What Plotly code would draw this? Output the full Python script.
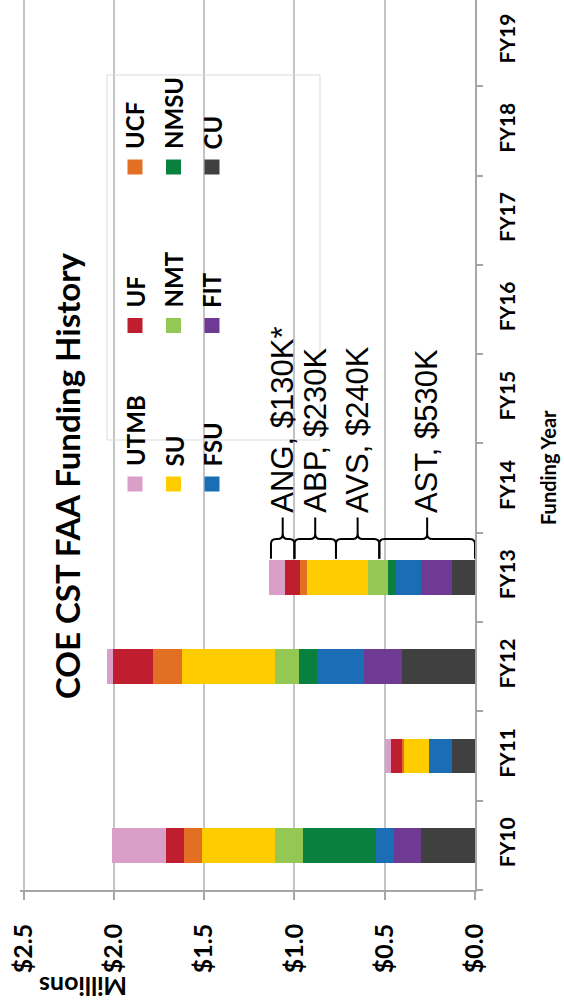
import plotly.graph_objects as go

# ---------------- data ----------------
years = ["FY10", "FY11", "FY12", "FY13", "FY14", "FY15", "FY16", "FY17", "FY18", "FY19"]

# stacking order from $0 outward
schools = ["CU", "FIT", "FSU", "NMSU", "NMT", "SU", "UCF", "UF", "UTMB"]
cu   = [0.30, 0.13, 0.405, 0.13, None, None, None, None, None, None]
fit  = [0.15, 0.00, 0.21, 0.17, None, None, None, None, None, None]
fsu  = [0.10, 0.125, 0.26, 0.14, None, None, None, None, None, None]
nmsu = [0.40, 0.00, 0.10, 0.04, None, None, None, None, None, None]
nmt  = [0.16, 0.00, 0.13, 0.11, None, None, None, None, None, None]
su   = [0.40, 0.14, 0.52, 0.34, None, None, None, None, None, None]
ucf  = [0.10, 0.01, 0.16, 0.04, None, None, None, None, None, None]
uf   = [0.10, 0.06, 0.22, 0.08, None, None, None, None, None, None]
utmb = [0.30, 0.035, 0.035, 0.09, None, None, None, None, None, None]
values = [cu, fit, fsu, nmsu, nmt, su, ucf, uf, utmb]

colors = ["#404040", "#6F3A93", "#1B6EB6", "#0A803F", "#92C853",
          "#FFCC00", "#E36F24", "#BE1E2D", "#DA9FC8"]

# legend arrangement (Excel order)
legend_order = ["UTMB", "UF", "UCF", "SU", "NMT", "NMSU", "FSU", "FIT", "CU"]

# FY13 program split (braces)
program_year = "FY13"
programs = ["AST", "AVS", "ABP", "ANG"]
program_amounts = [0.53, 0.24, 0.23, 0.13]
program_labels = ["AST, $530K", "AVS, $240K", "ABP, $230K", "ANG, $130K*"]

x_tickvals = [0.0, 0.5, 1.0, 1.5, 2.0, 2.5]
x_ticktext = ["$0.0", "$0.5", "$1.0", "$1.5", "$2.0", "$2.5"]

title_text = "COE CST FAA Funding History"
x_title = "Millions"
y_title = "Funding Year"

# ---------------- layout geometry ----------------
W, H = 564, 1006
ML, MR, MT, MB = 20, 89, 0, 116
PW, PH = W - ML - MR, H - MT - MB
X_RANGE = [2.52, 0.0]
Y_RANGE = [-0.5, 9.466]

def paper(px, py):
    return (px - ML) / PW, (MT + PH - py) / PH

BOLD = dict(family="Lato, 'Open Sans', sans-serif", color="black", weight="bold")
GRID = "#c4c4c4"
AXIS = "#a6a6a6"

ypos = list(range(len(years)))

fig = go.Figure()
for name, vals, col in zip(schools, values, colors):
    fig.add_trace(go.Bar(
        y=ypos, x=vals, name=name, orientation="h",
        marker=dict(color=col, line=dict(width=0)),
        width=0.39, showlegend=False,
    ))

shapes = []
annotations = []

# ---- braces over FY13 ----
yi = years.index(program_year)
yb, ym, yt = yi + 0.21, yi + 0.43, yi + 0.67
rx, ry = 0.028, 0.056
start = 0.0
for lab, amt in zip(program_labels, program_amounts):
    x0, x1 = start, start + amt
    xm = (x0 + x1) / 2
    path = (f"M {x0},{yb} L {x0},{ym - ry} Q {x0},{ym} {x0 + rx},{ym} "
            f"L {xm - rx},{ym} Q {xm},{ym} {xm},{ym + ry} L {xm},{yt} "
            f"M {xm},{ym + ry} Q {xm},{ym} {xm + rx},{ym} "
            f"L {x1 - rx},{ym} Q {x1},{ym} {x1},{ym - ry} L {x1},{yb}")
    shapes.append(dict(type="path", xref="x", yref="y", path=path,
                       line=dict(color="black", width=2)))
    annotations.append(dict(
        x=xm, y=yi + 0.70, xref="x", yref="y", text=lab, showarrow=False,
        textangle=-90, xanchor="center", yanchor="bottom",
        font=dict(family="'Liberation Sans', Arial, sans-serif", size=31, color="black"),
    ))
    start = x1

# ---- manual legend (rotated) ----
bx0, by0 = paper(107, 440)
bx1, by1 = paper(320, 75)
shapes.append(dict(type="rect", xref="paper", yref="paper", x0=bx0, y0=by0, x1=bx1, y1=by1,
                   line=dict(color="#d9d9d9", width=1), fillcolor="rgba(0,0,0,0)", layer="above"))
col_of = dict(zip(schools, colors))
for i, name in enumerate(legend_order):
    c, r = i // 3, i % 3
    cx = 135 + c * 38.5
    cy = 484 - r * 158.5
    sx0, sy0 = paper(cx - 7.5, cy + 7.5)
    sx1, sy1 = paper(cx + 7.5, cy - 7.5)
    shapes.append(dict(type="rect", xref="paper", yref="paper", x0=sx0, y0=sy0, x1=sx1, y1=sy1,
                       line=dict(width=0), fillcolor=col_of[name], layer="above"))
    tx, ty = paper(cx, cy - 7.5 - 8)
    annotations.append(dict(x=tx, y=ty, xref="paper", yref="paper", text=name,
                            showarrow=False, textangle=-90, xanchor="center", yanchor="bottom",
                            font=dict(BOLD, size=24)))

# ---- titles ----
tx, ty = paper(67, 476)
annotations.append(dict(x=tx, y=ty, xref="paper", yref="paper", text=title_text, showarrow=False,
                        textangle=-90, xanchor="center", yanchor="middle", font=dict(BOLD, size=33)))
tx, ty = paper(83, 1004)
annotations.append(dict(x=tx, y=ty, xref="paper", yref="paper", text=x_title, showarrow=False,
                        textangle=180, xanchor="center", yanchor="bottom", font=dict(BOLD, size=25)))
tx, ty = paper(548, 468)
annotations.append(dict(x=tx, y=ty, xref="paper", yref="paper", text=y_title, showarrow=False,
                        textangle=-90, xanchor="center", yanchor="middle", font=dict(BOLD, size=20)))

fig.update_layout(
    width=W, height=H, autosize=False,
    margin=dict(l=ML, r=MR, t=MT, b=MB, pad=0),
    barmode="stack",
    paper_bgcolor="white", plot_bgcolor="white",
    showlegend=False,
    shapes=shapes, annotations=annotations,
    xaxis=dict(
        range=X_RANGE, tickmode="array", tickvals=x_tickvals, ticktext=x_ticktext,
        tickangle=-90, tickfont=dict(BOLD, size=25),
        showgrid=True, gridcolor=GRID, gridwidth=2, zeroline=False,
        showline=True, linecolor=AXIS, linewidth=1.5,
        ticks="outside", ticklen=8, tickcolor=AXIS, tickwidth=1.5,
        ticklabelstandoff=14,
    ),
    yaxis=dict(
        range=Y_RANGE, side="right", tickmode="array", tickvals=ypos, ticktext=years,
        tickangle=-90, tickfont=dict(BOLD, size=21),
        showgrid=False, zeroline=False,
        showline=True, linecolor=AXIS, linewidth=1.5,
        ticks="", ticklabelstandoff=13,
        minor=dict(tickmode="array", tickvals=[v - 0.5 for v in ypos] + [len(ypos) - 0.5],
                   ticks="outside", ticklen=6, tickcolor=AXIS, tickwidth=1.5, showgrid=False),
    ),
)

fig.write_html("out.html")
